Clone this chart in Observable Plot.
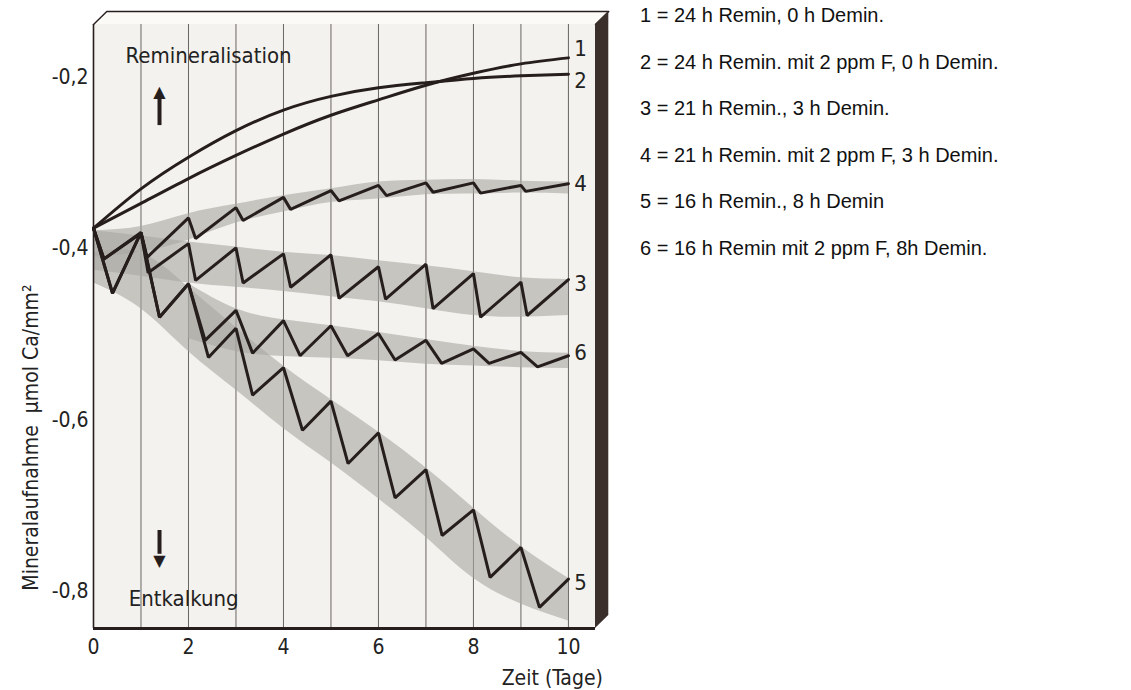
<!DOCTYPE html>
<html><head><meta charset="utf-8">
<script src="https://cdn.jsdelivr.net/npm/d3@7"></script>
<script src="https://cdn.jsdelivr.net/npm/@observablehq/plot@0.6"></script>
<style>
html,body{margin:0;padding:0;background:#fff;}
#wrap{position:relative;width:1131px;height:690px;overflow:hidden;}
#chart{position:absolute;left:0;top:0;}
#legend{position:absolute;left:640px;top:0;font-family:"Liberation Sans",Arial,sans-serif;font-size:20px;color:#111;}
#legend div{position:absolute;left:0;white-space:nowrap;transform:translateY(-50%);}
</style></head><body>
<div id="wrap"><div id="chart"></div><div id="legend"></div></div>
<script>
// ---------- data ----------
const days = [1,2,3,4,5,6,7,8,9,10];
const xTicks = [0,2,4,6,8,10];
const yTicks = [-0.2,-0.4,-0.6,-0.8];
const yTickLabels = ["-0,2","-0,4","-0,6","-0,8"];

// curve 1: 24 h Remin, 0 h Demin
const curve1 = [[0,-0.376],[1,-0.347],[2,-0.318],[3,-0.291],[4,-0.266],[5,-0.244],[6,-0.226],[7,-0.209],[8,-0.195],[9,-0.184],[10,-0.177]];
// curve 2: 24 h Remin mit 2 ppm F
const curve2 = [[0,-0.376],[1,-0.330],[2,-0.293],[3,-0.262],[4,-0.238],[5,-0.222],[6,-0.212],[7,-0.206],[8,-0.201],[9,-0.198],[10,-0.196]];
// curve 3: 21 h Remin, 3 h Demin
const curve3 = [[0,-0.376],[0.22,-0.412],[1,-0.382],[1.15,-0.428],[2,-0.394],[2.15,-0.437],[3,-0.399],[3.15,-0.440],[4,-0.406],[4.15,-0.445],[5,-0.407],[5.17,-0.458],[6,-0.421],[6.15,-0.459],[7,-0.418],[7.15,-0.470],[8,-0.429],[8.15,-0.480],[9,-0.439],[9.13,-0.478],[10,-0.436]];
// curve 4: 21 h Remin mit 2 ppm F, 3 h Demin
const curve4 = [[0,-0.376],[0.22,-0.412],[1,-0.381],[1.13,-0.410],[2,-0.364],[2.15,-0.388],[3,-0.352],[3.15,-0.367],[4,-0.340],[4.15,-0.354],[5,-0.332],[5.17,-0.344],[6,-0.326],[6.17,-0.338],[7,-0.323],[7.15,-0.334],[8,-0.323],[8.15,-0.335],[9,-0.326],[9.1,-0.333],[10,-0.324]];
// curve 5: 16 h Remin, 8 h Demin
const curve5 = [[0,-0.376],[0.4,-0.452],[1,-0.381],[1.39,-0.480],[2,-0.441],[2.42,-0.527],[3,-0.493],[3.35,-0.571],[4,-0.539],[4.4,-0.612],[5,-0.578],[5.36,-0.651],[6,-0.615],[6.35,-0.691],[7,-0.658],[7.34,-0.735],[8,-0.705],[8.35,-0.784],[9,-0.749],[9.39,-0.819],[10,-0.786]];
// curve 6: 16 h Remin mit 2 ppm F, 8 h Demin
const curve6 = [[0,-0.376],[0.4,-0.452],[1,-0.381],[1.39,-0.480],[2,-0.441],[2.35,-0.507],[3,-0.472],[3.35,-0.522],[4,-0.484],[4.35,-0.525],[5,-0.490],[5.35,-0.525],[6,-0.499],[6.35,-0.530],[7,-0.507],[7.33,-0.534],[8,-0.517],[8.33,-0.534],[9,-0.521],[9.35,-0.538],[10,-0.525]];

// grey scatter bands: [day, lower, upper]
const band3 = [[0,-0.425,-0.379],[1,-0.432,-0.385],[2,-0.440,-0.392],[3,-0.445,-0.398],[4,-0.450,-0.404],[5,-0.456,-0.408],[6,-0.462,-0.414],[7,-0.470,-0.420],[8,-0.478,-0.427],[9,-0.480,-0.434],[10,-0.478,-0.436]];
const band4 = [[0,-0.410,-0.379],[1,-0.404,-0.374],[2,-0.390,-0.359],[3,-0.370,-0.348],[4,-0.357,-0.338],[5,-0.346,-0.330],[6,-0.342,-0.322],[7,-0.337,-0.320],[8,-0.336,-0.319],[9,-0.335,-0.321],[10,-0.336,-0.322]];
const band5 = [[0,-0.440,-0.405],[1,-0.470,-0.405],[2,-0.520,-0.445],[3,-0.565,-0.492],[4,-0.610,-0.537],[5,-0.650,-0.576],[6,-0.692,-0.614],[7,-0.737,-0.656],[8,-0.785,-0.703],[9,-0.815,-0.748],[10,-0.835,-0.785]];
const band6 = [[2,-0.505,-0.441],[3,-0.520,-0.470],[4,-0.526,-0.483],[5,-0.528,-0.490],[6,-0.531,-0.498],[7,-0.535,-0.506],[8,-0.537,-0.514],[9,-0.539,-0.520],[10,-0.540,-0.522]];

const curveLabels = ["1","2","3","4","5","6"];
const curveEnds = [-0.166,-0.204,-0.441,-0.324,-0.790,-0.522];

const legendLabels = [
  "1 = 24 h Remin, 0 h Demin.",
  "2 = 24 h Remin. mit 2 ppm F, 0 h Demin.",
  "3 = 21 h Remin., 3 h Demin.",
  "4 = 21 h Remin. mit 2 ppm F, 3 h Demin.",
  "5 = 16 h Remin., 8 h Demin",
  "6 = 16 h Remin mit 2 ppm F, 8h Demin."
];

// ---------- layout ----------
const X0 = 0, X1 = 10.57, YB = -0.8437, YT = -0.138;
const DX = 0.28, DY = 0.0152;
const FONT = "'DejaVu Sans Condensed','Liberation Sans Narrow','DejaVu Sans',sans-serif";
const INK = "#261e1c";

const toPts = a => a.map(([x,y]) => ({x,y}));
const toBand = a => a.map(([x,lo,hi]) => ({x,lo,hi}));

const saw = [curve3, curve4, curve5, curve6].map(toPts);
const bands = [band3, band4, band5, band6].map(toBand);

const boxTop = [{x:X0,y1:YT,y2:YT},{x:X0+DX,y1:YT,y2:YT+DY},{x:X1,y1:YT,y2:YT+DY},{x:X1+DX,y1:YT+DY,y2:YT+DY}];
const boxSide = [{x:X1,y1:YB,y2:YT},{x:X1+DX,y1:YB+DY,y2:YT+DY}];
const boxOutline = [{x:X0,y:YT},{x:X0+DX,y:YT+DY},{x:X1+DX,y:YT+DY},{x:X1,y:YT}];

const marks = [
  Plot.rect([{x1:X0,x2:X1,y1:YB,y2:YT}], {x1:"x1",x2:"x2",y1:"y1",y2:"y2",fill:"#f4f2ee"}),
  Plot.ruleX(days, {x:d=>d, y1:YB, y2:YT, stroke:"#3c3836", strokeWidth:0.9, strokeOpacity:0.85}),
  ...bands.map(b => Plot.areaY(b, {x:"x", y1:"lo", y2:"hi", curve:"natural", fill:"#a9a6a2", fillOpacity:0.6})),
  Plot.line(toPts(curve1), {x:"x", y:"y", curve:"natural", stroke:INK, strokeWidth:3}),
  Plot.line(toPts(curve2), {x:"x", y:"y", curve:"natural", stroke:INK, strokeWidth:3}),
  ...saw.map(c => Plot.line(c, {x:"x", y:"y", stroke:INK, strokeWidth:3, strokeLinejoin:"miter"})),
  // frame
  Plot.ruleX([X0], {y1:YB, y2:YT, stroke:INK, strokeWidth:1.6}),
  Plot.ruleY([YB], {x1:X0, x2:X1, stroke:INK, strokeWidth:3}),
  Plot.areaY(boxTop, {x:"x", y1:"y1", y2:"y2", fill:"#fbfaf7"}),
  Plot.line(boxOutline, {x:"x", y:"y", stroke:INK, strokeWidth:1.4}),
  Plot.areaY(boxSide, {x:"x", y1:"y1", y2:"y2", fill:"#3b2f2b"}),
  // axis labels
  Plot.text(yTicks, {x:X0, y:d=>d, text:(d,i)=>yTickLabels[i], dx:-5, textAnchor:"end", fontSize:21, fontFamily:FONT, fill:"#222"}),
  Plot.text(xTicks, {x:d=>d, y:YB, text:d=>String(d), dy:19, fontSize:21, fontFamily:FONT, fill:"#222"}),
  Plot.text(["Zeit (Tage)"], {x:9.66, y:YB, text:d=>d, dy:50, fontSize:21, fontFamily:FONT, fill:"#222"}),
  Plot.text(["Mineralaufnahme  µmol Ca/mm²"], {x:X0, y:-0.6206, text:d=>d, dx:-62, rotate:-90, fontSize:21, fontFamily:FONT, fill:"#222"}),
  // annotations
  Plot.text(["Remineralisation"], {x:0.675, y:-0.1743, text:d=>d, textAnchor:"start", fontSize:22, fontFamily:FONT, fill:"#222"}),
  Plot.text(["Entkalkung"], {x:0.74, y:-0.8087, text:d=>d, textAnchor:"start", fontSize:22, fontFamily:FONT, fill:"#222"}),
  Plot.ruleX([1.39], {y1:-0.2561, y2:-0.225, stroke:INK, strokeWidth:4}),
  Plot.text(["▲"], {x:1.39, y:-0.217, text:d=>d, fontSize:16, fill:INK, fontFamily:"DejaVu Sans"}),
  Plot.ruleX([1.39], {y1:-0.7292, y2:-0.757, stroke:INK, strokeWidth:4}),
  Plot.text(["▼"], {x:1.39, y:-0.765, text:d=>d, fontSize:16, fill:INK, fontFamily:"DejaVu Sans"}),
  Plot.text(curveLabels, {x:10.12, y:(d,i)=>curveEnds[i], text:d=>d, textAnchor:"start", fontSize:22, fontFamily:FONT, fill:"#222"})
];

const chart = Plot.plot({
  width: 620, height: 690,
  marginLeft: 93, marginRight: 25, marginTop: 24, marginBottom: 62,
  x: {domain:[X0, X1], axis:null},
  y: {domain:[YB, YT], axis:null},
  style: {background:"transparent", overflow:"visible"},
  marks
});
document.getElementById("chart").appendChild(chart);

const leg = document.getElementById("legend");
legendLabels.forEach((t,i) => {
  const d = document.createElement("div");
  d.textContent = t;
  d.style.top = (15 + i*46.6) + "px";
  leg.appendChild(d);
});
</script>
</body></html>
